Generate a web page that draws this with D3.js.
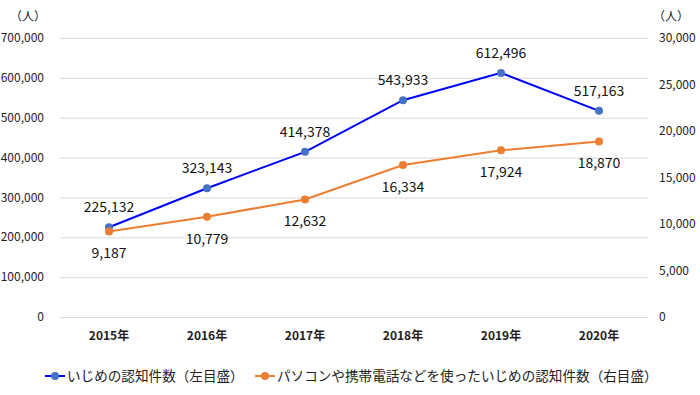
<!DOCTYPE html>
<html>
<head>
<meta charset="utf-8">
<script src="https://cdn.jsdelivr.net/npm/d3@7"></script>
<style>
  body { margin: 0; background: #fff; }
  svg { font-family: "Noto Sans CJK JP", "Noto Sans", sans-serif; }
  .grid line { stroke: #d9d9d9; stroke-width: 1; }
  .axis text { font-size: 12px; fill: #222; }
</style>
</head>
<body>
<svg width="700" height="395"></svg>
<script>
var years = ["2015年", "2016年", "2017年", "2018年", "2019年", "2020年"];
var bullying = [225132, 323143, 414378, 543933, 612496, 517163];
var cyber = [9187, 10779, 12632, 16334, 17924, 18870];
var leftTicks = [0, 100000, 200000, 300000, 400000, 500000, 600000, 700000];
var rightTicks = [0, 5000, 10000, 15000, 20000, 25000, 30000];
var legendNames = ["いじめの認知件数（左目盛）", "パソコンや携帯電話などを使ったいじめの認知件数（右目盛）"];

var svg = d3.select("svg");
var plotLeft = 60, plotRight = 648, plotTop = 38, plotBottom = 317;

var x = d3.scaleBand().domain(years).range([plotLeft, plotRight]);
var yL = d3.scaleLinear().domain([0, 700000]).range([plotBottom, plotTop]);
var yR = d3.scaleLinear().domain([0, 30000]).range([plotBottom, plotTop]);
var fmt = d3.format(",");

// gridlines
svg.append("g").attr("class", "grid")
  .selectAll("line")
  .data(leftTicks)
  .enter().append("line")
  .attr("x1", plotLeft).attr("x2", plotRight)
  .attr("y1", d => yL(d) + 0.5).attr("y2", d => yL(d) + 0.5);

// left axis labels
svg.append("g").attr("class", "axis")
  .selectAll("text")
  .data(leftTicks)
  .enter().append("text")
  .attr("x", 44).attr("y", d => yL(d)).attr("dy", "0.35em")
  .attr("text-anchor", "end")
  .text(d => fmt(d));

// right axis labels
svg.append("g").attr("class", "axis")
  .selectAll("text")
  .data(rightTicks)
  .enter().append("text")
  .attr("x", 659).attr("y", d => yR(d)).attr("dy", "0.35em")
  .text(d => fmt(d));

// units
svg.append("text").attr("x", 46).attr("y", 17).attr("dy", "0.35em")
  .attr("text-anchor", "end").attr("font-size", 12).attr("fill", "#222").text("（人）");
svg.append("text").attr("x", 653).attr("y", 17).attr("dy", "0.35em")
  .attr("font-size", 12).attr("fill", "#222").text("（人）");

// x labels
svg.append("g").attr("class", "axis")
  .selectAll("text")
  .data(years)
  .enter().append("text")
  .attr("x", d => x(d) + x.bandwidth() / 2).attr("y", 336).attr("dy", "0.35em")
  .attr("text-anchor", "middle").attr("font-weight", "bold")
  .text(d => d);

var cx = d => x(d) + x.bandwidth() / 2;

function drawSeries(values, yScale, lineColor, dotColor, labelDy) {
  var data = years.map((y, i) => [y, values[i]]);
  svg.append("path")
    .datum(data)
    .attr("fill", "none")
    .attr("stroke", lineColor)
    .attr("stroke-width", 2)
    .attr("d", d3.line().x(d => cx(d[0])).y(d => yScale(d[1])));
  svg.append("g").selectAll("circle")
    .data(data)
    .enter().append("circle")
    .attr("cx", d => cx(d[0])).attr("cy", d => yScale(d[1]))
    .attr("r", 4).attr("fill", dotColor);
  svg.append("g").selectAll("text")
    .data(data)
    .enter().append("text")
    .attr("x", d => cx(d[0])).attr("y", d => yScale(d[1]) + labelDy)
    .attr("dy", "0.35em").attr("text-anchor", "middle")
    .attr("font-size", 14).attr("fill", "#111")
    .text(d => fmt(d[1]));
}

drawSeries(bullying, yL, "#0000ff", "#4472c4", -20);
drawSeries(cyber, yR, "#ed7d31", "#ed7d31", 22);

// legend
var legend = [
  { name: legendNames[0], line: "#0000ff", dot: "#4472c4", x: 45 },
  { name: legendNames[1], line: "#ed7d31", dot: "#ed7d31", x: 255 }
];
var lg = svg.append("g").selectAll("g")
  .data(legend)
  .enter().append("g")
  .attr("transform", d => "translate(" + d.x + ",376)");
lg.append("line").attr("x1", 0).attr("x2", 20)
  .attr("stroke", d => d.line).attr("stroke-width", 2);
lg.append("circle").attr("cx", 10).attr("r", 4).attr("fill", d => d.dot);
lg.append("text").attr("x", 22).attr("dy", "0.35em")
  .attr("font-size", 13.6).attr("fill", "#222")
  .text(d => d.name);
</script>
</body>
</html>
